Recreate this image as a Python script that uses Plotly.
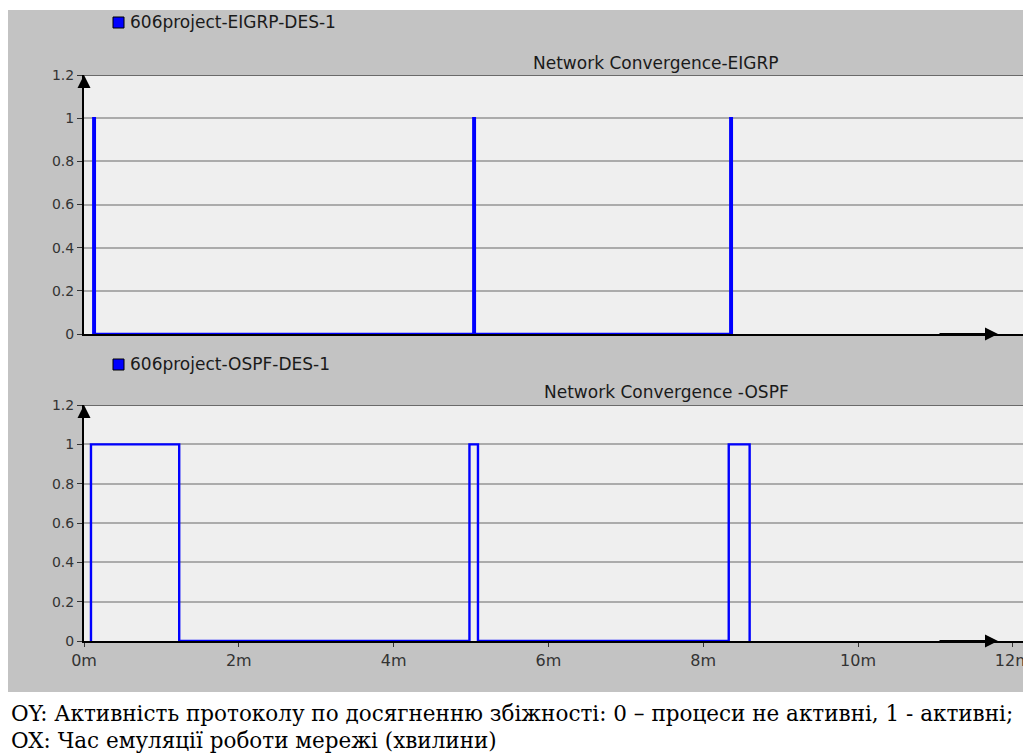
import plotly.graph_objects as go

# ---- data -------------------------------------------------------------
# EIGRP convergence activity (time in minutes, state 0/1), step series
eigrp_t = [0.12, 0.12, 0.14, 0.14, 5.03, 5.03, 5.05, 5.05, 8.35, 8.35, 8.37, 8.37]
eigrp_v = [0,    1,    1,    0,    0,    1,    1,    0,    0,    1,    1,    0]

# OSPF convergence activity
ospf_t = [0.09, 0.09, 1.23, 1.23, 4.98, 4.98, 5.09, 5.09, 8.33, 8.33, 8.60, 8.60]
ospf_v = [0,    1,    1,    0,    0,    1,    1,    0,    0,    1,    1,    0]

x_ticks = [0, 2, 4, 6, 8, 10, 12]
x_tick_labels = ["0m", "2m", "4m", "6m", "8m", "10m", "12m"]
y_ticks = [0, 0.2, 0.4, 0.6, 0.8, 1, 1.2]
y_tick_labels = ["0", "0.2", "0.4", "0.6", "0.8", "1", "1.2"]

series_top = "606project-EIGRP-DES-1"
series_bottom = "606project-OSPF-DES-1"
title_top = "Network Convergence-EIGRP"
title_bottom = "Network Convergence -OSPF"
caption_oy = "OY: Активність протоколу по досягненню збіжності: 0 – процеси не активні, 1 - активні;"
caption_ox = "OX: Час емуляції роботи мережі (хвилини)"

# ---- layout helpers ---------------------------------------------------
W, H = 1023, 753
def fx(px):
    return px / W
def fy(py):
    return 1 - py / H

X0_PX, XSCALE = 84, 77.4          # pixel of t=0 and px per minute
x_max = (W - X0_PX) / XSCALE

BLUE = "#0000ff"
GRID = "#ababab"
TXT = "#333333"
SANS = "DejaVu Sans, Arial, sans-serif"
SERIF = "DejaVu Serif, Times New Roman, serif"

fig = go.Figure()

fig.add_trace(go.Scatter(x=eigrp_t, y=eigrp_v, mode="lines",
                         line=dict(color=BLUE, width=2.4),
                         xaxis="x", yaxis="y", showlegend=False, hoverinfo="skip"))
fig.add_trace(go.Scatter(x=ospf_t, y=ospf_v, mode="lines",
                         line=dict(color=BLUE, width=2.4),
                         xaxis="x2", yaxis="y2", showlegend=False, hoverinfo="skip"))

yax_common = dict(range=[0, 1.2], tickvals=y_ticks, ticktext=y_tick_labels,
                  showgrid=True, gridcolor=GRID, gridwidth=2, zeroline=False,
                  showline=True, linecolor="black", linewidth=2, automargin=False,
                  ticks="outside", ticklen=5, tickcolor="#333", tickwidth=1,
                  tickfont=dict(family=SANS, size=14, color=TXT), fixedrange=True)
xax_common = dict(range=[0, x_max], tickvals=x_ticks, showgrid=False, zeroline=False,
                  showline=True, linecolor="black", linewidth=2, automargin=False,
                  ticks="outside", ticklen=4, tickcolor="#333", tickwidth=1,
                  ticklabeloverflow="allow",
                  tickfont=dict(family=SANS, size=16, color=TXT), fixedrange=True)

fig.update_layout(
    width=W, height=H,
    margin=dict(l=0, r=0, t=0, b=0, pad=0, autoexpand=False),
    paper_bgcolor="#c3c3c3",
    plot_bgcolor="#efefef",
    xaxis=dict(xax_common, domain=[fx(X0_PX), 1], anchor="y",
               showticklabels=False, ticks=""),
    yaxis=dict(yax_common, domain=[fy(334), fy(75)], anchor="x"),
    xaxis2=dict(xax_common, domain=[fx(X0_PX), 1], anchor="y2",
                ticktext=x_tick_labels, ticklabelstandoff=0),
    yaxis2=dict(yax_common, domain=[fy(641), fy(405)], anchor="x2"),
)

shapes = [
    # white page strips around the grey chart panel
    dict(type="rect", xref="paper", yref="paper", x0=0, x1=fx(8), y0=0, y1=1,
         fillcolor="white", line=dict(width=0), layer="below"),
    dict(type="rect", xref="paper", yref="paper", x0=0, x1=1, y0=fy(10), y1=1,
         fillcolor="white", line=dict(width=0), layer="below"),
    dict(type="rect", xref="paper", yref="paper", x0=0, x1=1, y0=0, y1=fy(692),
         fillcolor="white", line=dict(width=0), layer="below"),
    # darker top border lines of each plot
    dict(type="line", xref="paper", yref="y", x0=fx(X0_PX), x1=1, y0=1.2, y1=1.2,
         line=dict(color="#6a6a6a", width=2)),
    dict(type="line", xref="paper", yref="y2", x0=fx(X0_PX), x1=1, y0=1.2, y1=1.2,
         line=dict(color="#6a6a6a", width=2)),
    # legend swatches
    dict(type="rect", xref="paper", yref="paper", x0=fx(113), x1=fx(124), y0=fy(28), y1=fy(17),
         fillcolor=BLUE, line=dict(color="black", width=1)),
    dict(type="rect", xref="paper", yref="paper", x0=fx(113), x1=fx(124), y0=fy(370), y1=fy(359),
         fillcolor=BLUE, line=dict(color="black", width=1)),
]

annotations = [
    dict(text=series_top, xref="paper", yref="paper", x=fx(128), y=fy(22),
         xanchor="left", yanchor="middle", showarrow=False,
         font=dict(family=SANS, size=17, color="#1a1a1a")),
    dict(text=series_bottom, xref="paper", yref="paper", x=fx(128), y=fy(364),
         xanchor="left", yanchor="middle", showarrow=False,
         font=dict(family=SANS, size=17, color="#1a1a1a")),
    dict(text=title_top, xref="paper", yref="paper", x=fx(656), y=fy(63),
         xanchor="center", yanchor="middle", showarrow=False,
         font=dict(family=SANS, size=17, color="#1a1a1a")),
    dict(text=title_bottom, xref="paper", yref="paper", x=fx(666), y=fy(392),
         xanchor="center", yanchor="middle", showarrow=False,
         font=dict(family=SANS, size=17, color="#1a1a1a")),
    dict(text=caption_oy, xref="paper", yref="paper", x=fx(9), y=fy(713),
         xanchor="left", yanchor="middle", showarrow=False,
         font=dict(family=SERIF, size=21.5, color="black")),
    dict(text=caption_ox, xref="paper", yref="paper", x=fx(9), y=fy(740),
         xanchor="left", yanchor="middle", showarrow=False,
         font=dict(family=SERIF, size=21.5, color="black")),
]

# axis arrowheads
for xr, yr in (("x", "y"), ("x2", "y2")):
    annotations.append(dict(x=0, y=1.2, xref=xr, yref=yr, ax=0, ay=14, axref="pixel", ayref="pixel",
                            showarrow=True, arrowhead=2, arrowsize=1.3, arrowwidth=2,
                            arrowcolor="black", text=""))
    annotations.append(dict(x=(998 - X0_PX) / XSCALE, y=0, xref=xr, yref=yr, ax=-60, ay=0,
                            axref="pixel", ayref="pixel", showarrow=True, arrowhead=2,
                            arrowsize=1.3, arrowwidth=2, arrowcolor="black", text=""))

fig.update_layout(shapes=shapes, annotations=annotations)

fig.write_html("out.html")
